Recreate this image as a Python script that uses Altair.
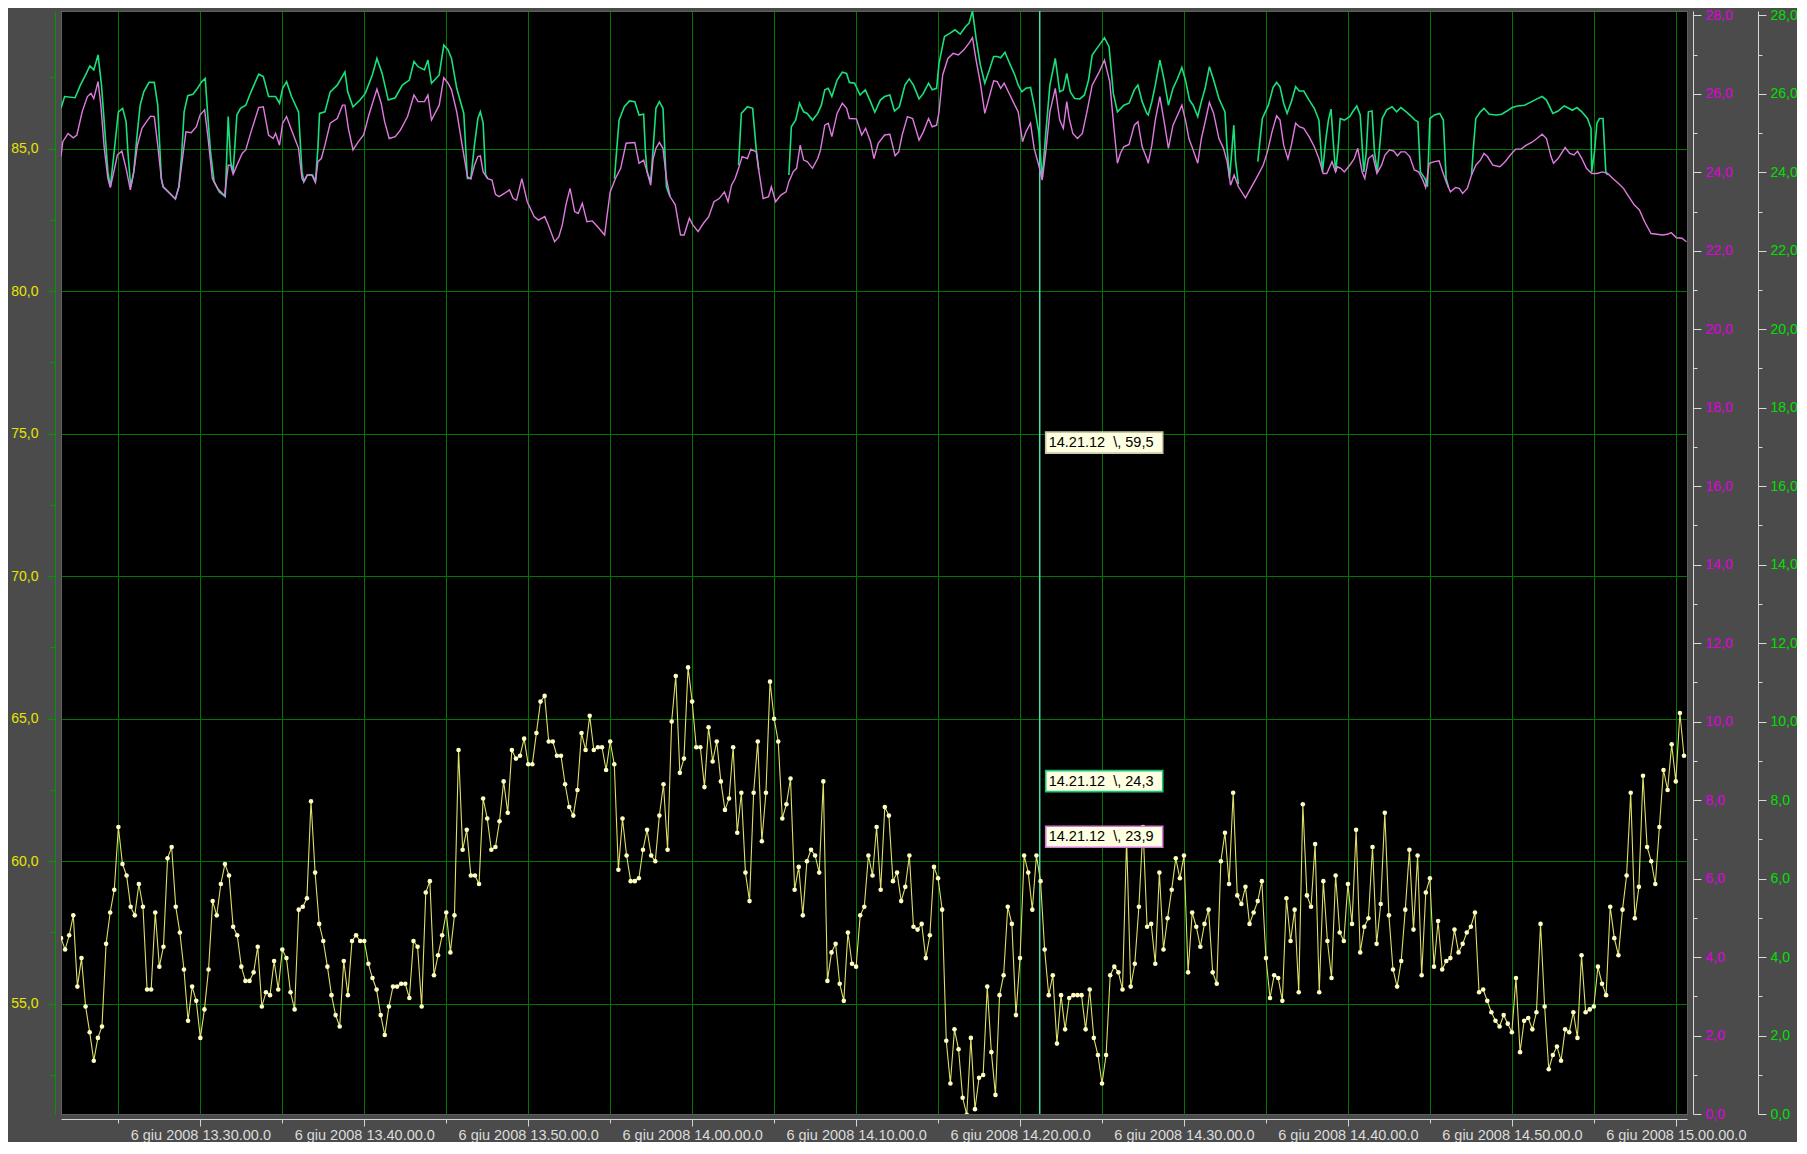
import altair as alt
import pandas as pd

# ---------------- data ----------------
BASE = pd.Timestamp("2008-06-06 13:25:00")          # minute offsets below are relative to this
YELLOW_START = pd.Timestamp("2008-06-06 13:21:30")  # yellow samples every 15 s
YELLOW_STEP_S = 15

YELLOW = [
    57.3, 56.9, 57.4, 58.1, 55.6, 56.6, 54.9, 54.0, 53.0, 53.8,
    54.2, 57.1, 58.2, 59.0, 61.2, 59.9, 59.5, 58.4, 58.1, 59.2,
    58.4, 55.5, 55.5, 58.2, 56.3, 57.0, 60.1, 60.5, 58.4, 57.5,
    56.2, 54.4, 55.6, 55.1, 53.8, 54.8, 56.2, 58.6, 58.1, 59.2,
    59.9, 59.5, 57.7, 57.4, 56.3, 55.8, 55.8, 56.1, 57.0, 54.9,
    55.4, 55.3, 56.5, 55.5, 56.9, 56.6, 55.4, 54.8, 58.3, 58.4,
    58.7, 62.1, 59.6, 57.8, 57.2, 56.3, 55.3, 54.6, 54.2, 56.5,
    55.3, 57.2, 57.4, 57.2, 57.2, 56.4, 55.9, 55.5, 54.6, 53.9,
    54.9, 55.6, 55.6, 55.7, 55.7, 55.2, 57.2, 57.0, 54.9, 58.9,
    59.3, 56.0, 56.7, 57.4, 58.2, 56.8, 58.1, 63.9, 60.4, 61.1,
    59.5, 59.5, 59.2, 62.2, 61.5, 60.4, 60.5, 61.4, 62.8, 61.7,
    63.9, 63.6, 63.7, 64.3, 63.4, 63.4, 64.5, 65.6, 65.8, 64.2,
    64.2, 63.7, 63.7, 62.7, 61.9, 61.6, 62.5, 64.5, 63.9, 65.1,
    63.9, 64.0, 64.0, 63.2, 64.2, 63.4, 59.7, 61.5, 60.2, 59.3,
    59.3, 59.4, 60.4, 61.1, 60.2, 60.0, 61.6, 62.7, 60.4, 64.9,
    66.5, 63.1, 63.6, 66.8, 65.6, 64.0, 64.0, 62.6, 64.7, 63.5,
    64.2, 62.8, 61.8, 62.2, 64.0, 61.0, 62.4, 59.6, 58.6, 62.4,
    64.2, 60.7, 62.4, 66.3, 65.0, 64.2, 61.5, 62.0, 62.9, 59.0,
    59.8, 58.1, 60.0, 60.4, 60.2, 59.6, 62.8, 55.8, 56.8, 57.1,
    55.7, 55.1, 57.5, 56.4, 56.3, 58.1, 58.4, 60.2, 59.5, 61.2,
    59.0, 61.9, 61.6, 59.3, 59.6, 58.6, 59.1, 60.2, 57.7, 57.6,
    57.8, 56.6, 57.4, 59.8, 59.4, 58.3, 53.7, 52.2, 54.1, 53.4,
    51.7, 51.1, 53.8, 51.3, 52.4, 52.5, 55.6, 53.3, 51.8, 55.3,
    56.0, 58.4, 57.8, 54.6, 56.6, 60.2, 59.6, 58.3, 60.2, 59.3,
    56.9, 55.3, 56.0, 53.6, 55.3, 54.1, 55.2, 55.3, 55.3, 55.3,
    54.1, 55.5, 53.8, 53.2, 52.2, 53.2, 56.0, 56.3, 56.1, 55.5,
    60.8, 55.6, 56.4, 58.4, 61.2, 57.7, 57.8, 56.4, 59.6, 56.9,
    58.0, 59.0, 60.1, 59.4, 60.2, 56.1, 58.2, 57.7, 57.0, 57.8,
    58.3, 56.1, 55.7, 60.0, 61.0, 59.2, 62.4, 58.8, 58.5, 59.1,
    57.8, 58.2, 58.6, 59.3, 56.6, 55.2, 56.0, 55.9, 55.1, 58.7,
    57.2, 58.3, 55.4, 62.0, 58.8, 58.4, 60.6, 55.4, 59.3, 57.2,
    55.9, 59.5, 57.5, 57.2, 59.2, 57.8, 61.1, 56.8, 57.7, 58.0,
    60.5, 57.1, 58.5, 61.7, 58.1, 56.2, 55.6, 56.5, 58.3, 60.4,
    57.6, 60.2, 56.0, 58.9, 59.4, 56.3, 57.9, 56.2, 56.5, 56.6,
    57.6, 56.8, 57.1, 57.5, 57.7, 58.2, 55.4, 55.5, 55.1, 54.7,
    54.4, 54.2, 54.6, 54.3, 54.0, 55.9, 53.3, 54.4, 54.5, 54.1,
    54.7, 57.8, 54.9, 52.7, 53.2, 53.5, 53.0, 54.1, 54.0, 54.7,
    53.8, 56.7, 54.7, 54.8, 54.9, 56.3, 55.7, 55.3, 58.4, 57.3,
    56.7, 58.3, 59.5, 62.4, 58.0, 59.1, 63.0, 60.5, 60.0, 59.2,
    61.2, 63.2, 62.5, 64.1, 62.8, 65.2, 63.7,
]

# (minutes after 13:25, value) for the magenta series
PINK = [
    (-3.50, 24.40), (-3.39, 24.78), (-3.07, 24.99), (-2.75, 24.88), (-2.53, 24.95),
    (-2.21, 25.54), (-1.89, 25.93), (-1.67, 26.01), (-1.50, 25.88), (-1.24, 26.31),
    (-1.07, 25.71), (-0.86, 24.61), (-0.64, 23.84), (-0.49, 23.61), (-0.28, 24.01),
    (-0.06, 24.44), (0.21, 24.54), (0.47, 24.10), (0.73, 23.55), (0.94, 24.01),
    (1.16, 24.69), (1.44, 25.12), (1.72, 25.29), (1.97, 25.43), (2.19, 25.42),
    (2.40, 24.69), (2.62, 23.84), (2.73, 23.63), (3.05, 23.50), (3.48, 23.32),
    (3.69, 23.63), (3.86, 24.18), (4.12, 25.03), (4.44, 25.01), (4.76, 25.16),
    (4.98, 25.46), (5.26, 25.59), (5.45, 24.95), (5.73, 23.84), (6.05, 23.59),
    (6.48, 23.40), (6.70, 24.18), (6.85, 24.18), (7.00, 23.95), (7.23, 24.18),
    (7.55, 24.48), (7.77, 24.57), (8.09, 25.03), (8.56, 25.65), (8.84, 25.67),
    (9.16, 24.95), (9.44, 24.86), (9.59, 24.99), (9.83, 24.69), (10.02, 25.25),
    (10.26, 25.42), (10.56, 25.08), (10.99, 24.61), (11.20, 23.84), (11.31, 23.76),
    (11.52, 23.93), (11.80, 23.93), (12.02, 23.74), (12.17, 24.27), (12.38, 24.35),
    (12.60, 24.69), (12.92, 25.25), (13.35, 25.37), (13.67, 25.71), (13.82, 25.71),
    (14.03, 25.12), (14.31, 24.57), (14.64, 24.78), (14.96, 24.95), (15.28, 25.46),
    (15.77, 26.12), (16.03, 25.76), (16.24, 25.29), (16.52, 24.86), (16.89, 24.91),
    (17.21, 25.08), (17.64, 25.42), (18.03, 25.97), (18.28, 25.80), (18.67, 25.80),
    (18.88, 25.97), (19.10, 25.33), (19.57, 25.71), (19.85, 26.41), (20.11, 26.27),
    (20.32, 26.10), (20.64, 25.54), (20.97, 24.69), (21.29, 23.89), (21.50, 23.83),
    (21.72, 24.18), (21.93, 24.40), (22.08, 24.42), (22.25, 24.01), (22.53, 23.84),
    (22.79, 23.80), (23.00, 23.44), (23.22, 23.38), (23.54, 23.46), (23.86, 23.55),
    (24.08, 23.33), (24.29, 23.29), (24.61, 23.84), (24.94, 23.25), (25.36, 22.87),
    (25.62, 22.78), (26.01, 22.87), (26.22, 22.66), (26.61, 22.23), (26.87, 22.36),
    (27.08, 22.66), (27.30, 23.17), (27.55, 23.59), (27.83, 23.00), (28.05, 22.95),
    (28.30, 23.21), (28.58, 22.74), (28.91, 22.76), (29.23, 22.61), (29.66, 22.40),
    (29.79, 22.83), (30.00, 23.50), (30.32, 23.84), (30.64, 24.10), (30.97, 24.74),
    (31.50, 24.76), (31.76, 24.23), (32.04, 24.31), (32.25, 24.01), (32.47, 23.67),
    (32.62, 24.35), (32.79, 24.61), (33.00, 24.76), (33.22, 24.61), (33.43, 23.84),
    (33.65, 23.38), (33.97, 23.17), (34.29, 22.40), (34.51, 22.40), (34.83, 22.83),
    (35.04, 22.66), (35.36, 22.49), (35.69, 22.70), (36.01, 22.87), (36.33, 23.25),
    (36.65, 23.33), (36.97, 23.50), (37.19, 23.25), (37.40, 23.67), (37.62, 23.84),
    (37.83, 24.10), (38.05, 24.40), (38.37, 24.35), (38.58, 24.59), (38.91, 24.52),
    (39.06, 24.06), (39.33, 23.33), (39.66, 23.38), (39.83, 23.63), (40.09, 23.25),
    (40.41, 23.42), (40.73, 23.50), (40.90, 23.76), (41.16, 24.01), (41.37, 24.10),
    (41.59, 24.69), (41.80, 24.31), (42.02, 24.27), (42.34, 24.10), (42.66, 24.35),
    (42.83, 24.57), (43.09, 25.20), (43.30, 25.25), (43.52, 24.91), (43.84, 25.50),
    (44.16, 25.76), (44.42, 25.63), (44.59, 25.37), (45.02, 25.36), (45.34, 24.95),
    (45.58, 25.12), (45.88, 24.78), (46.09, 24.35), (46.35, 24.74), (46.74, 24.95),
    (47.06, 24.97), (47.38, 24.42), (47.60, 24.52), (47.81, 24.95), (48.13, 25.42),
    (48.45, 25.37), (48.84, 24.82), (49.10, 25.03), (49.42, 25.37), (49.64, 25.16),
    (49.91, 25.20), (50.06, 25.54), (50.28, 26.48), (50.60, 26.90), (50.92, 27.03),
    (51.24, 26.99), (51.57, 27.12), (51.89, 27.29), (52.10, 27.43), (52.32, 26.86),
    (52.58, 26.27), (52.85, 25.50), (53.13, 25.93), (53.39, 26.33), (53.61, 26.31),
    (53.82, 26.14), (54.03, 26.27), (54.36, 25.99), (54.68, 25.71), (54.89, 25.54),
    (55.15, 24.78), (55.36, 25.03), (55.64, 25.25), (55.86, 24.61), (56.14, 24.18),
    (56.35, 23.80), (56.57, 24.52), (56.82, 25.54), (57.15, 26.14), (57.42, 25.33),
    (57.64, 25.12), (57.85, 25.80), (58.00, 25.37), (58.22, 24.99), (58.50, 24.86),
    (58.80, 24.99), (59.08, 25.54), (59.40, 26.22), (59.83, 26.56), (60.15, 26.86),
    (60.47, 26.31), (60.69, 25.29), (60.94, 24.23), (61.12, 24.48), (61.33, 24.65),
    (61.65, 24.71), (61.97, 25.20), (62.19, 25.29), (62.45, 24.65), (62.73, 24.35),
    (62.82, 24.23), (63.04, 24.69), (63.25, 25.33), (63.53, 25.93), (63.79, 25.29),
    (64.05, 24.61), (64.33, 25.20), (64.61, 25.46), (64.87, 25.71), (65.09, 25.33),
    (65.30, 24.86), (65.52, 24.61), (65.84, 24.23), (66.06, 24.86), (66.34, 25.37),
    (66.55, 25.78), (66.81, 25.50), (67.13, 24.86), (67.41, 24.61), (67.63, 24.27),
    (67.84, 23.67), (68.06, 23.93), (68.32, 23.63), (68.75, 23.35), (69.07, 23.59),
    (69.40, 23.84), (69.83, 24.18), (70.09, 24.52), (70.37, 25.03), (70.65, 25.44),
    (70.86, 25.33), (71.08, 24.69), (71.34, 24.34), (71.55, 24.69), (71.81, 25.25),
    (72.03, 25.16), (72.31, 25.12), (72.63, 24.91), (72.95, 24.65), (73.23, 24.35),
    (73.49, 23.97), (73.71, 23.97), (74.03, 24.27), (74.25, 24.01), (74.35, 24.14),
    (74.57, 24.10), (74.78, 24.01), (75.11, 24.18), (75.39, 24.35), (75.60, 24.61),
    (75.86, 24.01), (76.03, 23.84), (76.25, 24.35), (76.51, 24.44), (76.77, 23.97),
    (77.05, 24.18), (77.26, 24.44), (77.54, 24.57), (77.80, 24.54), (78.02, 24.42),
    (78.23, 24.52), (78.49, 24.52), (78.77, 24.40), (79.05, 24.06), (79.31, 24.01),
    (79.53, 23.84), (79.74, 23.61), (79.96, 24.23), (80.28, 24.27), (80.56, 24.29),
    (80.78, 24.01), (80.99, 23.76), (81.25, 23.50), (81.57, 23.61), (81.79, 23.59),
    (82.00, 23.46), (82.28, 23.59), (82.54, 23.93), (82.80, 24.18), (83.08, 24.31),
    (83.30, 24.48), (83.51, 24.40), (83.84, 24.18), (84.27, 24.14), (84.59, 24.27),
    (84.91, 24.44), (85.24, 24.59), (85.56, 24.59), (85.88, 24.69), (86.21, 24.76),
    (86.53, 24.86), (86.85, 24.97), (87.11, 24.86), (87.39, 24.40), (87.54, 24.23),
    (87.82, 24.35), (88.25, 24.63), (88.53, 24.48), (88.79, 24.44), (89.01, 24.54),
    (89.27, 24.35), (89.55, 24.10), (89.87, 23.97), (90.19, 23.97), (90.52, 24.01),
    (90.84, 23.97), (91.16, 23.84), (91.49, 23.72), (91.81, 23.59), (92.13, 23.38),
    (92.46, 23.17), (92.78, 23.04), (93.10, 22.74), (93.49, 22.44), (93.86, 22.42),
    (94.18, 22.40), (94.50, 22.42), (94.72, 22.46), (95.04, 22.33), (95.37, 22.32),
    (95.65, 22.23),
]

# green series: visible stretches (where it is not hidden under the magenta one)
GREEN_1 = [
    (-3.50, 25.63), (-3.28, 25.93), (-2.64, 25.90), (-2.32, 26.22), (-2.00, 26.48),
    (-1.74, 26.71), (-1.50, 26.61), (-1.24, 26.99), (-1.03, 26.22), (-0.82, 25.03),
    (-0.64, 24.01), (-0.49, 23.63), (-0.28, 24.44), (0.00, 25.54), (0.26, 25.63),
    (0.47, 25.29), (0.58, 24.52), (0.75, 23.63), (0.94, 24.01), (1.12, 24.86),
    (1.33, 25.71), (1.55, 26.05), (1.87, 26.29), (2.19, 26.29), (2.40, 25.71),
    (2.62, 23.84), (2.73, 23.63), (3.05, 23.50), (3.48, 23.32), (3.69, 23.63),
    (3.86, 24.44), (4.01, 25.54), (4.23, 25.95), (4.55, 25.99), (4.76, 26.10),
    (5.09, 26.31), (5.30, 26.39), (5.45, 25.46), (5.62, 24.52), (5.84, 23.76),
    (6.16, 23.50), (6.52, 23.38), (6.70, 25.42), (6.85, 24.27), (7.00, 24.01),
    (7.23, 25.46), (7.45, 25.63), (7.77, 25.71), (8.09, 26.05), (8.56, 26.50),
    (8.84, 26.44), (9.16, 25.93), (9.59, 25.93), (9.83, 25.76), (10.02, 26.14),
    (10.26, 26.31), (10.56, 25.93), (10.99, 25.54), (11.20, 24.01), (11.31, 23.76),
    (11.52, 23.93), (11.85, 23.93), (12.02, 23.76), (12.17, 24.61), (12.27, 25.50),
    (12.60, 25.54), (12.92, 26.05), (13.35, 26.22), (13.82, 26.56), (13.99, 26.05),
    (14.31, 25.67), (14.74, 25.84), (15.06, 26.01), (15.49, 26.48), (15.77, 26.90),
    (16.09, 26.52), (16.46, 25.84), (16.89, 25.90), (17.32, 26.22), (17.75, 26.35),
    (18.03, 26.82), (18.28, 26.69), (18.67, 26.61), (18.88, 26.86), (19.10, 26.27),
    (19.57, 26.48), (19.85, 27.24), (20.11, 27.12), (20.32, 26.90), (20.64, 26.14),
    (21.07, 25.50), (21.29, 23.84), (21.50, 23.84), (21.72, 24.69), (21.93, 25.37),
    (22.08, 25.54), (22.25, 25.25), (22.40, 23.93), (22.53, 23.84),
]
GREEN_2 = [
    (30.26, 23.84), (30.54, 25.33), (30.86, 25.67), (31.18, 25.82), (31.50, 25.80),
    (31.76, 25.46), (32.04, 25.48), (32.15, 24.52), (32.25, 24.01), (32.47, 23.76),
    (32.62, 24.61), (32.79, 25.63), (33.00, 25.80), (33.22, 25.63), (33.43, 23.63),
    (33.65, 23.38),
]
GREEN_3 = [(37.83, 24.18), (38.00, 25.50), (38.37, 25.67), (38.69, 25.63), (38.91, 24.57), (39.06, 24.06)]
GREEN_4 = [
    (40.90, 23.93), (41.05, 25.16), (41.31, 25.33), (41.55, 25.76), (41.80, 25.54),
    (42.02, 25.50), (42.34, 25.33), (42.66, 25.50), (42.88, 25.71), (43.09, 26.10),
    (43.30, 26.14), (43.52, 25.93), (43.84, 26.35), (44.16, 26.55), (44.42, 26.52),
    (44.59, 26.29), (44.91, 26.27), (45.24, 25.97), (45.56, 26.10), (45.88, 25.80),
    (46.14, 25.53), (46.48, 25.84), (46.74, 25.93), (47.06, 25.97), (47.34, 25.56),
    (47.64, 25.67), (47.98, 26.22), (48.24, 26.38), (48.50, 26.22), (48.84, 25.87),
    (49.10, 26.01), (49.42, 26.27), (49.64, 26.10), (49.91, 26.14), (50.06, 26.78),
    (50.39, 27.46), (50.71, 27.54), (51.03, 27.63), (51.35, 27.52), (51.67, 27.71),
    (51.89, 27.80), (52.10, 28.11), (52.32, 27.41), (52.58, 26.73), (52.85, 26.27),
    (53.13, 26.61), (53.39, 26.95), (53.61, 26.95), (53.82, 26.92), (54.08, 27.06),
    (54.36, 26.78), (54.68, 26.48), (54.89, 26.22), (55.11, 26.05), (55.36, 26.14),
    (55.64, 26.16), (55.86, 25.71), (56.14, 25.03), (56.35, 23.84), (56.57, 24.99),
    (56.82, 26.22), (57.15, 26.90), (57.42, 26.05), (57.64, 26.10), (57.85, 26.52),
    (58.07, 26.05), (58.33, 25.88), (58.65, 25.87), (58.93, 25.97), (59.18, 26.35),
    (59.40, 26.99), (59.83, 27.24), (60.15, 27.43), (60.43, 27.20), (60.69, 26.01),
    (60.94, 25.54), (61.33, 25.71), (61.65, 25.76), (61.97, 26.10), (62.19, 26.22),
    (62.45, 25.80), (62.73, 25.50), (62.82, 25.46), (63.04, 25.80), (63.25, 26.22),
    (63.53, 26.86), (63.79, 26.35), (64.05, 25.71), (64.33, 26.14), (64.61, 26.39),
    (64.87, 26.67), (65.09, 26.35), (65.34, 25.84), (65.56, 25.71), (65.84, 25.42),
    (66.06, 25.80), (66.29, 26.14), (66.55, 26.69), (66.81, 26.35), (67.13, 25.88),
    (67.50, 25.54), (67.63, 24.61), (67.78, 23.84), (67.93, 24.61), (68.04, 25.20),
    (68.15, 24.27), (68.32, 23.70),
]
GREEN_5 = [
    (69.50, 24.27), (69.78, 25.37), (70.15, 25.71), (70.43, 26.16), (70.65, 26.29),
    (70.86, 26.18), (71.08, 25.76), (71.29, 25.50), (71.55, 25.80), (71.81, 26.18),
    (72.03, 26.07), (72.31, 26.07), (72.63, 25.84), (72.95, 25.63), (73.23, 25.33),
    (73.45, 24.01), (73.66, 24.86), (73.81, 25.33), (73.97, 25.61), (74.09, 24.86),
    (74.25, 24.01), (74.40, 24.61), (74.53, 25.37), (74.78, 25.33), (75.11, 25.42),
    (75.32, 25.56), (75.54, 25.69), (75.75, 25.46), (75.97, 24.01), (76.12, 24.52),
    (76.25, 25.54), (76.47, 25.56), (76.62, 24.52), (76.79, 24.01), (76.98, 24.86),
    (77.09, 25.37), (77.37, 25.59), (77.69, 25.67), (77.97, 25.54), (78.23, 25.65),
    (78.56, 25.54), (78.88, 25.42), (79.09, 25.33), (79.27, 25.29), (79.42, 24.01),
    (79.70, 23.84), (79.85, 23.63), (80.00, 25.37), (80.28, 25.46), (80.60, 25.50),
    (80.82, 25.33), (80.99, 23.84), (81.14, 23.61),
]
GREEN_6 = [
    (82.54, 23.93), (82.65, 24.61), (82.80, 25.37), (83.08, 25.54), (83.30, 25.63),
    (83.62, 25.48), (84.05, 25.46), (84.38, 25.48), (84.70, 25.56), (85.02, 25.65),
    (85.34, 25.69), (85.78, 25.71), (86.21, 25.80), (86.53, 25.87), (86.85, 25.93),
    (87.11, 25.84), (87.50, 25.50), (87.82, 25.56), (88.19, 25.69), (88.47, 25.63),
    (88.69, 25.58), (88.97, 25.65), (89.27, 25.54), (89.61, 25.37), (89.83, 25.12),
    (89.87, 24.01), (90.04, 24.52), (90.19, 25.25), (90.34, 25.37), (90.56, 25.37),
    (90.73, 24.01), (90.84, 23.93),
]
GREEN_SEGMENTS = [GREEN_1, GREEN_2, GREEN_3, GREEN_4, GREEN_5, GREEN_6]

CURSOR_TIME = "2008-06-06T14:21:12"
NB = "\u00a0"
ANN_TEXT = [f"14.21.12{NB}{NB}\\,{NB}59,5", f"14.21.12{NB}{NB}\\,{NB}24,3", f"14.21.12{NB}{NB}\\,{NB}23,9"]
ANN_LEVEL = [74.67, 62.79, 60.84]          # vertical placement, in left-axis units
ANN_BORDER = ["#c9c9a6", "#19c77a", "#d77ad7"]

LEFT_DOMAIN = [51.13, 89.83]
RIGHT_DOMAIN = [0.0, 28.11]

# ---------------- colours / styles ----------------
BG = "#4b4b4b"
GRID = "#007800"
YELLOW_LINE = "#dede6a"
YELLOW_DOT = "#ffffc4"
PINK_C = "#e07ae0"
GREEN_C = "#19e07c"
CURSOR_C = "#3fe0ac"
FONT = "Liberation Sans"


def iso(minutes):
    return (BASE + pd.Timedelta(minutes=minutes)).isoformat(timespec="milliseconds")


def dt(h, m, s=0):
    return alt.DateTime(year=2008, month=6, date=6, hours=h, minutes=m, seconds=s)


yellow_df = pd.DataFrame({
    "time": [(YELLOW_START + pd.Timedelta(seconds=YELLOW_STEP_S * i)).isoformat() for i in range(len(YELLOW))],
    "value": YELLOW,
})
pink_df = pd.DataFrame({"time": [iso(t) for t, _ in PINK], "value": [v for _, v in PINK]})
green_rows = []
for k, seg in enumerate(GREEN_SEGMENTS):
    for t, v in seg:
        green_rows.append({"time": iso(t), "value": v, "seg": k})
green_df = pd.DataFrame(green_rows)
cursor_df = pd.DataFrame({"time": [CURSOR_TIME]})
ann_df = pd.DataFrame({"time": [CURSOR_TIME] * 3, "level": ANN_LEVEL, "label": ANN_TEXT, "border": ANN_BORDER})

# ---------------- scales & axes ----------------
x_scale = alt.Scale(domain=[dt(13, 21, 30), dt(15, 0, 41)])
x_ticks = []
for k in range(20):
    tot = 13 * 60 + 25 + 5 * k
    x_ticks.append(dt(tot // 60, tot % 60))

x_axis = alt.Axis(
    values=x_ticks, title=None, grid=True, gridColor=GRID, gridWidth=1,
    labelExpr="minutes(datum.value) % 10 == 0 ? timeFormat(datum.value, '%-d giu %Y %H.%M.%S.0') : ''",
    labelColor="#dcdcdc", labelFont=FONT, labelFontSize=14.5, labelPadding=2,
    labelFlush=False, labelOverlap=False,
    domainColor="#d4d4d4", tickColor="#d4d4d4",
    tickSize={"condition": {"test": "minutes(datum.value) % 10 != 0", "value": 4}, "value": 7},
    offset=5,
)
X = alt.X("time:T", scale=x_scale, axis=x_axis)

left_axis = alt.Axis(
    orient="left", offset=6, title=None,
    values=[52.5 + 2.5 * i for i in range(15)],
    labelExpr="datum.value % 5 == 0 ? replace(format(datum.value, '.1f'), '.', ',') : ''",
    grid=True, gridColor=GRID,
    gridOpacity={"condition": {"test": "datum.value % 5 != 0", "value": 0}, "value": 1},
    domainColor="#009a00", tickColor="#009a00",
    tickSize={"condition": {"test": "datum.value % 5 != 0", "value": 5}, "value": 8},
    labelColor="#e6e600", labelFont=FONT, labelFontSize=14, labelPadding=9,
)


def right_axis(offset, color):
    return alt.Axis(
        orient="right", offset=offset, title=None, grid=False,
        values=list(range(0, 29)),
        labelExpr="datum.value % 2 == 0 ? replace(format(datum.value, '.1f'), '.', ',') : ''",
        domainColor="#d8d8d8", tickColor="#d8d8d8",
        tickSize={"condition": {"test": "datum.value % 2 != 0", "value": 4}, "value": 8},
        labelColor=color, labelFont=FONT, labelFontSize=14, labelPadding=4,
    )


left_scale = alt.Scale(domain=LEFT_DOMAIN, nice=False, zero=False)
right_scale = alt.Scale(domain=RIGHT_DOMAIN, nice=False, zero=False)

# ---------------- layers ----------------
cursor = alt.Chart(cursor_df).mark_rule(color=CURSOR_C, strokeWidth=1.5).encode(x=X)

yellow_line = alt.Chart(yellow_df).mark_line(color=YELLOW_LINE, strokeWidth=1.1, clip=True).encode(
    x=X, y=alt.Y("value:Q", scale=left_scale, axis=left_axis))
yellow_pts = alt.Chart(yellow_df).mark_circle(color=YELLOW_DOT, size=21, opacity=1, clip=True).encode(
    x=X, y=alt.Y("value:Q", scale=left_scale, axis=None))

green = alt.Chart(green_df).mark_line(color=GREEN_C, strokeWidth=1.6, clip=True).encode(
    x=X, y=alt.Y("value:Q", scale=right_scale, axis=right_axis(71, "#00e000")), detail="seg:N")
pink = alt.Chart(pink_df).mark_line(color=PINK_C, strokeWidth=1.4, clip=True).encode(
    x=X, y=alt.Y("value:Q", scale=right_scale, axis=right_axis(6, "#e000e0")))

ann_box = alt.Chart(ann_df).mark_rect(
    fill="#ffffe1", strokeWidth=1.6, xOffset=6, x2Offset=123, yOffset=-11, y2Offset=10
).encode(
    x=X, x2=alt.X2("time"),
    y=alt.Y("level:Q", scale=left_scale, axis=None), y2=alt.Y2("level"),
    stroke=alt.Stroke("border:N", scale=None),
)
ann_text = alt.Chart(ann_df).mark_text(
    align="left", baseline="middle", dx=9, dy=0, font=FONT, fontSize=14.5, color="#000000"
).encode(
    x=X, y=alt.Y("level:Q", scale=left_scale, axis=None), text="label:N")

chart = alt.layer(
    cursor, yellow_line, yellow_pts, green, pink, ann_box, ann_text
).resolve_scale(
    y="independent"
).properties(
    width=1626, height=1103,
    background=BG,
    padding={"left": 53, "top": 3, "right": 110, "bottom": 28},
    autosize=alt.AutoSizeParams(type="none"),
).configure_view(
    fill="#000000", stroke="#9c9c9c", strokeDash=[1, 1], strokeWidth=1
)

chart.save("out.html", embed_options={"renderer": "svg", "actions": False})
